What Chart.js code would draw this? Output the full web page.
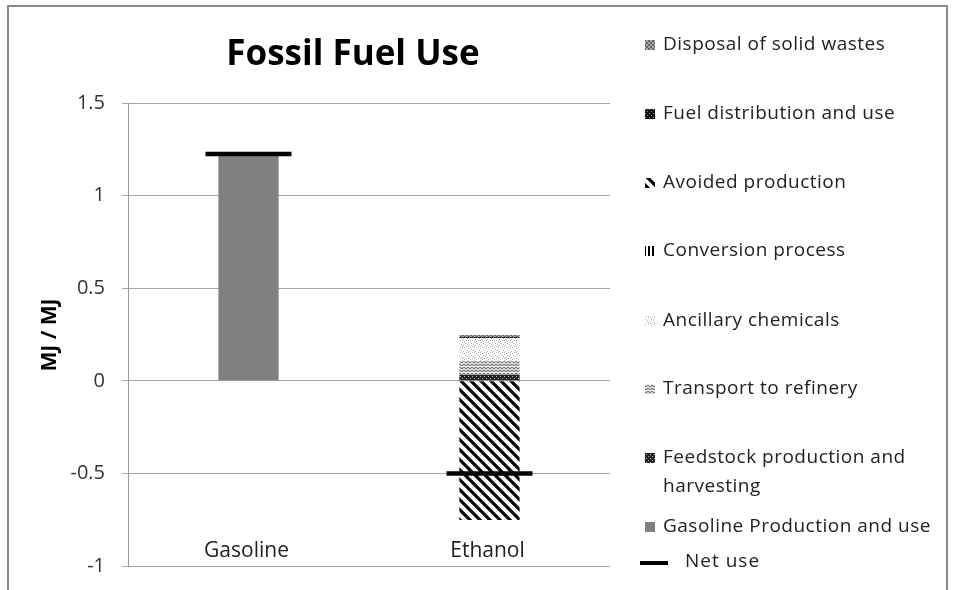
<!DOCTYPE html>
<html>
<head>
<meta charset="utf-8">
<script src="https://cdn.jsdelivr.net/npm/chart.js@4/dist/chart.umd.min.js"></script>
<style>
  html, body { margin: 0; padding: 0; background: #fff; }
  #wrap { width: 953px; height: 590px; }
</style>
</head>
<body>
<div id="wrap"><canvas id="c" width="953" height="590"></canvas></div>
<script>
// categories and values (MJ / MJ)
const categories = ['Gasoline', 'Ethanol'];
const gasolineUse = [1.225, 0];
const feedstock = [0, 0.033];
const transport = [0, 0.072];
const ancillary = [0, 0.126];
const conversion = [0, 0];
const avoided = [0, -0.751];
const fuelDistribution = [0, 0.006];
const disposal = [0, 0.01];
const netUse = [1.225, -0.5];
const yTicks = [1.5, 1, 0.5, 0, -0.5, -1];

const FONT = '"Open Sans", "Liberation Sans", sans-serif';
const canvas = document.getElementById('c');
const ctx = canvas.getContext('2d');

// small tiles for the hatch fills
function makePattern(w, h, draw) {
    const t = document.createElement('canvas');
    t.width = w; t.height = h;
    const g = t.getContext('2d');
    g.fillStyle = '#fff';
    g.fillRect(0, 0, w, h);
    draw(g);
    return ctx.createPattern(t, 'repeat');
}

const patterns = {
    feedstock: makePattern(4, 4, g => {
        g.fillStyle = '#222';
        g.fillRect(0, 0, 4, 4);
        g.fillStyle = '#bbb';
        g.fillRect(0, 0, 1, 1);
        g.fillRect(2, 2, 1, 1);
    }),
    transport: makePattern(8, 6, g => {
        g.strokeStyle = '#777';
        g.lineWidth = 1.2;
        g.beginPath();
        g.moveTo(0, 1); g.lineTo(2, 3); g.lineTo(4, 1); g.lineTo(6, 3); g.lineTo(8, 1);
        g.moveTo(0, 4); g.lineTo(2, 6); g.lineTo(4, 4); g.lineTo(6, 6); g.lineTo(8, 4);
        g.stroke();
    }),
    ancillary: makePattern(6, 6, g => {
        g.fillStyle = '#b5b5b5';
        [[0, 0], [3, 1], [1, 3], [4, 4], [2, 5], [5, 2], [0, 4]].forEach(p => g.fillRect(p[0], p[1], 1, 1));
    }),
    conversion: makePattern(4, 4, g => {
        g.fillStyle = '#000';
        g.fillRect(0, 0, 2, 4);
    }),
    avoided: makePattern(10, 10, g => {
        g.strokeStyle = '#000';
        g.lineWidth = 3.2;
        g.beginPath();
        g.moveTo(-2, -2); g.lineTo(12, 12);
        g.moveTo(-2, 8); g.lineTo(2, 12);
        g.moveTo(8, -2); g.lineTo(12, 2);
        g.stroke();
    }),
    fuelDistribution: makePattern(4, 4, g => {
        g.fillStyle = '#111';
        g.fillRect(0, 0, 4, 4);
        g.fillStyle = '#888';
        g.fillRect(1, 1, 1, 1);
        g.fillRect(3, 3, 1, 1);
    }),
    disposal: makePattern(4, 4, g => {
        g.fillStyle = '#666';
        g.fillRect(0, 0, 2, 2);
        g.fillRect(2, 2, 2, 2);
        g.fillStyle = '#aaa';
        g.fillRect(2, 0, 2, 2);
        g.fillRect(0, 2, 2, 2);
    })
};

function barSet(label, data, fill) {
    return {
        type: 'bar',
        label: label,
        data: data,
        backgroundColor: fill,
        borderWidth: 0,
        stack: 'fuel',
        order: 1,
        categoryPercentage: 1,
        barPercentage: 0.25
    };
}

const datasets = [
    barSet('Gasoline Production and use', gasolineUse, '#808080'),
    barSet('Feedstock production and harvesting', feedstock, patterns.feedstock),
    barSet('Transport to refinery', transport, patterns.transport),
    barSet('Ancillary chemicals', ancillary, patterns.ancillary),
    barSet('Conversion process', conversion, patterns.conversion),
    barSet('Avoided production', avoided, patterns.avoided),
    barSet('Fuel distribution and use', fuelDistribution, patterns.fuelDistribution),
    barSet('Disposal of solid wastes', disposal, patterns.disposal),
    {
        type: 'line',
        label: 'Net use',
        data: netUse,
        stack: 'net',
        order: 0,
        showLine: false,
        pointStyle: 'line',
        pointRadius: 43,
        pointHoverRadius: 43,
        pointBorderWidth: 4.5,
        pointBorderColor: '#000',
        borderColor: '#000'
    }
];

// title, axis titles, category labels, frame and the hand-placed legend
const decorations = {
    id: 'decorations',
    afterDraw(chart) {
        const c = chart.ctx;
        c.save();
        // frame
        c.strokeStyle = '#8a8a8a';
        c.lineWidth = 2;
        c.beginPath();
        c.moveTo(8, 590); c.lineTo(8, 6); c.lineTo(947, 6); c.lineTo(947, 590);
        c.stroke();

        // title
        c.fillStyle = '#000';
        c.font = 'bold 35px ' + FONT;
        c.textAlign = 'center';
        c.textBaseline = 'middle';
        c.fillText('Fossil Fuel Use', 353, 55);

        // y axis title
        c.save();
        c.translate(50, 335);
        c.rotate(-Math.PI / 2);
        c.font = 'bold 21px ' + FONT;
        c.fillText('MJ / MJ', 0, 0);
        c.restore();

        // category labels sit just above the bottom gridline
        const xs = chart.scales.x;
        c.font = '21px ' + FONT;
        c.fillStyle = '#222';
        categories.forEach((name, i) => c.fillText(name, xs.getPixelForValue(i) - 2, 551));

        // legend, reversed like the original
        const rows = [
            { ds: 7, y: 45 },
            { ds: 6, y: 114 },
            { ds: 5, y: 183 },
            { ds: 4, y: 251 },
            { ds: 3, y: 321 },
            { ds: 2, y: 389 },
            { ds: 1, y: 458, wrap: ['Feedstock production and', 'harvesting'] },
            { ds: 0, y: 527 }
        ];
        c.font = '19px ' + FONT;
        c.letterSpacing = '0.5px';
        c.textAlign = 'left';
        rows.forEach(r => {
            const d = chart.data.datasets[r.ds];
            c.fillStyle = d.backgroundColor;
            c.fillRect(645, r.y - 5, 10, 10);
            c.fillStyle = '#222';
            const lines = r.wrap || [d.label];
            lines.forEach((t, i) => c.fillText(t, 663, r.y + i * 29));
        });
        c.strokeStyle = '#000';
        c.lineWidth = 4;
        c.beginPath();
        c.moveTo(640, 563); c.lineTo(668, 563);
        c.stroke();
        c.fillStyle = '#222';
        c.letterSpacing = '1px';
        c.fillText(chart.data.datasets[8].label, 685, 562);
        c.restore();
    }
};

new Chart(canvas, {
    data: { labels: categories, datasets: datasets },
    options: {
        responsive: false,
        animation: false,
        layout: { autoPadding: false, padding: { top: 103, right: 343, bottom: 24, left: 0 } },
        plugins: {
            legend: { display: false },
            title: { display: false },
            tooltip: { enabled: false }
        },
        scales: {
            x: {
                stacked: true,
                display: false
            },
            y: {
                stacked: true,
                min: -1,
                max: 1.5,
                afterBuildTicks(scale) { scale.ticks = yTicks.map(v => ({ value: v })); },
                ticks: {
                    font: { family: FONT, size: 20 },
                    color: '#333',
                    padding: 17,
                    callback: v => String(v)
                },
                grid: { color: '#a6a6a6', lineWidth: 1, tickLength: 6 },
                border: { display: true, color: '#9a9a9a', width: 1 },
                afterFit(scale) {
                    scale.width = 128;
                    scale.paddingTop = 0;
                    scale.paddingBottom = 0;
                }
            }
        }
    },
    plugins: [decorations]
});
</script>
</body>
</html>
